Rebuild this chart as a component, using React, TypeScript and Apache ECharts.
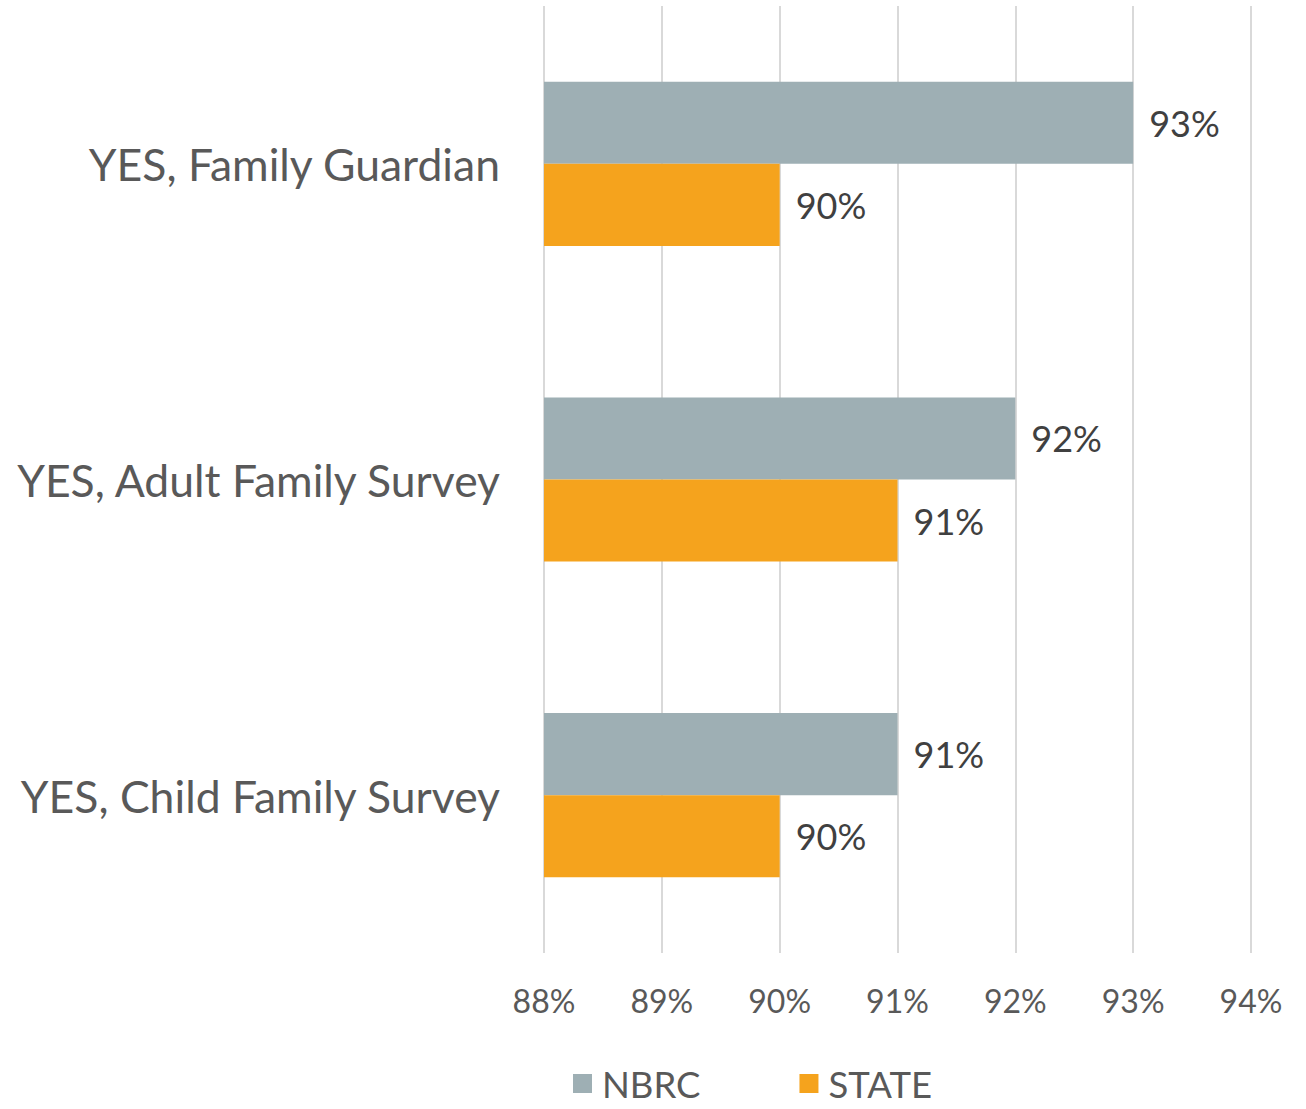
import React, { useEffect, useRef } from "react";
import * as echarts from "echarts";

const categories = ["YES, Family Guardian", "YES, Adult Family Survey", "YES, Child Family Survey"];
const nbrcValues = [93, 92, 91];
const stateValues = [90, 91, 90];
const seriesNames = ["NBRC", "STATE"];
const axisMin = 88;
const axisMax = 94;

export default function App() {
  const ref = useRef<HTMLDivElement>(null);
  useEffect(() => {
    if (!ref.current) return;
    const chart = echarts.init(ref.current, null, { renderer: "svg" });
    const font = "Lato, 'Open Sans', sans-serif";
    chart.setOption({
      animation: false,
      backgroundColor: "#ffffff",
      textStyle: { fontFamily: font },
      grid: { left: 544, right: 55, top: 6, bottom: 156, containLabel: false },
      legend: {
        data: seriesNames,
        left: 568,
        top: 1060,
        itemWidth: 19,
        itemHeight: 19,
        itemGap: 99,
        icon: "rect",
        textStyle: { fontSize: 36.5, color: "#595959", fontFamily: font, padding: [0, 0, 0, 5] },
      },
      xAxis: {
        type: "value",
        min: axisMin,
        max: axisMax,
        interval: 1,
        axisLine: { show: false },
        axisTick: { show: false },
        splitLine: { show: true, lineStyle: { color: "#D9D9D9", width: 2 } },
        axisLabel: {
          formatter: (v: number) => `${v}%`,
          fontSize: 32,
          color: "#595959",
          margin: 31,
          fontFamily: font,
        },
      },
      yAxis: {
        type: "category",
        data: categories,
        inverse: true,
        axisLine: { show: false },
        axisTick: { show: false },
        axisLabel: { fontSize: 44.5, color: "#595959", margin: 44, fontFamily: font },
      },
      series: [
        {
          name: seriesNames[0],
          type: "bar",
          data: nbrcValues,
          barGap: "0%",
          barCategoryGap: "48%",
          itemStyle: { color: "#9EAFB4" },
          label: {
            show: true,
            position: "right",
            distance: 16,
            formatter: (p: any) => `${p.value}%`,
            fontSize: 36,
            color: "#404040",
            fontFamily: font,
          },
        },
        {
          name: seriesNames[1],
          type: "bar",
          data: stateValues,
          barGap: "0%",
          barCategoryGap: "48%",
          itemStyle: { color: "#F5A31D" },
          label: {
            show: true,
            position: "right",
            distance: 16,
            formatter: (p: any) => `${p.value}%`,
            fontSize: 36,
            color: "#404040",
            fontFamily: font,
          },
        },
      ],
    });
    return () => chart.dispose();
  }, []);
  return (
    <div
      ref={ref}
      style={{ position: "fixed", left: 0, top: 0, width: 1306, height: 1109, background: "#fff" }}
    />
  );
}
